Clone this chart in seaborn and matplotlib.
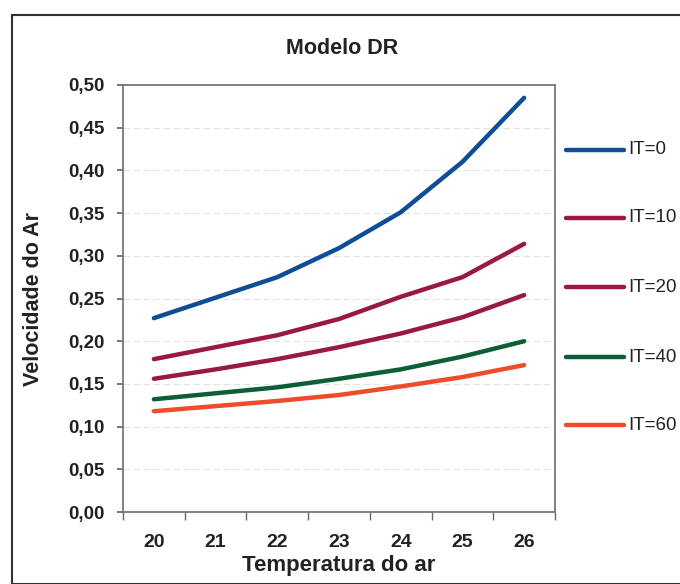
import numpy as np
import pandas as pd
import seaborn as sns
import matplotlib.pyplot as plt
from matplotlib.patches import Rectangle

sns.set_theme(style='white')
plt.rcParams['font.family'] = ['Liberation Sans', 'DejaVu Sans']

# dados
temperatura = [20, 21, 22, 23, 24, 25, 26]
it0 = [0.227, 0.251, 0.275, 0.309, 0.351, 0.410, 0.485]
it10 = [0.179, 0.193, 0.207, 0.226, 0.252, 0.275, 0.314]
it20 = [0.156, 0.167, 0.179, 0.193, 0.209, 0.228, 0.254]
it40 = [0.132, 0.139, 0.146, 0.156, 0.167, 0.182, 0.200]
it60 = [0.118, 0.124, 0.130, 0.137, 0.147, 0.158, 0.172]
series_names = ['IT=0', 'IT=10', 'IT=20', 'IT=40', 'IT=60']
y_ticks = [0.00, 0.05, 0.10, 0.15, 0.20, 0.25, 0.30, 0.35, 0.40, 0.45, 0.50]
y_tick_labels = ['0,00', '0,05', '0,10', '0,15', '0,20', '0,25',
                 '0,30', '0,35', '0,40', '0,45', '0,50']

cores = {
    'IT=0': '#0f4d96',
    'IT=10': '#9a1940',
    'IT=20': '#9a1940',
    'IT=40': '#0b5e36',
    'IT=60': '#ee4d2c',
}
txt = '#222222'

df = pd.DataFrame({'Temperatura': temperatura, 'IT=0': it0, 'IT=10': it10,
                   'IT=20': it20, 'IT=40': it40, 'IT=60': it60})
df_long = df.melt(id_vars='Temperatura', var_name='Serie', value_name='Velocidade')

fig = plt.figure(figsize=(6.8, 5.84), dpi=100)
ax = fig.add_axes([123/680, 1 - 512/584, (555-123)/680, (512-85)/584])

sns.lineplot(data=df_long, x='Temperatura', y='Velocidade', hue='Serie',
             hue_order=series_names, palette=cores, linewidth=3.2, ax=ax,
             legend=False)

ax.set_xlim(19.5, 26.5)
ax.set_ylim(0, 0.5)
ax.set_xticks(temperatura)
ax.set_xticklabels([str(t) for t in temperatura], fontsize=14,
                   fontweight='bold', color=txt)
ax.set_xticks(np.arange(19.5, 27, 1.0), minor=True)
ax.set_yticks(y_ticks)
ax.set_yticklabels(y_tick_labels, fontsize=13.5, fontweight='bold', color=txt)
ax.yaxis.grid(True, color='#e2e2e2', linewidth=0.8, linestyle=(0, (6, 3)))
ax.tick_params(axis='x', which='major', length=0, pad=16)
ax.tick_params(axis='x', which='minor', direction='out', length=6,
               color='#666666', bottom=True)
ax.tick_params(axis='y', direction='out', length=4, color='#666666',
               left=True, pad=9)
for s in ax.spines.values():
    s.set_visible(True)
    s.set_color('#777777')
    s.set_linewidth(1.3)

ax.set_xlabel('Temperatura do ar', fontsize=16, fontweight='bold',
              labelpad=3, color=txt)
ax.set_ylabel('Velocidade do Ar', fontsize=15.5, fontweight='bold',
              labelpad=18, color=txt)
fig.text(342/680, 1 - 48/584, 'Modelo DR', fontsize=15.5, fontweight='bold',
         ha='center', va='center', color=txt)

# legenda manual a direita
leg_y = [150, 218, 287, 357, 425]
for nome, yp in zip(series_names, leg_y):
    yf = 1 - yp/584
    fig.add_artist(plt.Line2D([566/680, 624/680], [yf, yf], color=cores[nome],
                              linewidth=3.2, transform=fig.transFigure))
    fig.text(628/680, yf, nome, fontsize=13.5, va='center', ha='left',
             color=txt)

# moldura externa do grafico
fig.patches.append(Rectangle((12/680, 0), 1, 1 - 15/584, transform=fig.transFigure,
                             fill=False, edgecolor='#333333', linewidth=1.5))

fig.savefig('out.png', dpi=100)
